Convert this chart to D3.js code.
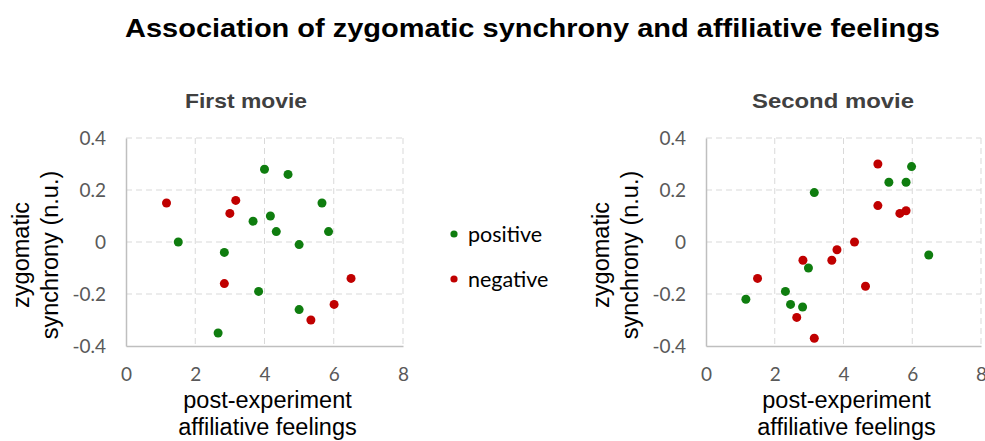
<!DOCTYPE html>
<html><head><meta charset="utf-8">
<script src="https://cdn.jsdelivr.net/npm/d3@7"></script>
<style>body{margin:0;background:#fff}</style>
</head><body>
<script>
const mainTitle = "Association of zygomatic synchrony and affiliative feelings";
const panelTitles = ["First movie", "Second movie"];
const seriesNames = ["positive", "negative"];
const seriesColors = ["#0f7d0f", "#c00000"];
const xTicks = [0, 2, 4, 6, 8];
const yTicks = [-0.4, -0.2, 0, 0.2, 0.4];
const yTickLabels = ["-0.4", "-0.2", "0", "0.2", "0.4"];
const xTitle = ["post-experiment", "affiliative feelings"];
const yTitle = ["zygomatic", "synchrony (n.u.)"];

const first_positive_x = [4.0, 4.68, 5.66, 4.17, 3.67, 4.34, 5.85, 1.51, 5.0, 2.84, 3.83, 5.0, 2.66];
const first_positive_y = [0.28, 0.26, 0.15, 0.10, 0.08, 0.04, 0.04, 0.0, -0.01, -0.04, -0.19, -0.26, -0.35];
const first_negative_x = [1.17, 3.17, 3.0, 2.84, 6.5, 6.01, 5.34];
const first_negative_y = [0.15, 0.16, 0.11, -0.16, -0.14, -0.24, -0.30];

const second_positive_x = [5.98, 5.32, 5.82, 3.15, 6.48, 2.98, 2.31, 2.46, 2.81, 1.16];
const second_positive_y = [0.29, 0.23, 0.23, 0.19, -0.05, -0.10, -0.19, -0.24, -0.25, -0.22];
const second_negative_x = [5.0, 5.0, 5.64, 5.82, 4.32, 3.81, 2.82, 3.66, 1.5, 4.64, 2.64, 3.15];
const second_negative_y = [0.30, 0.14, 0.11, 0.12, 0.0, -0.03, -0.07, -0.07, -0.14, -0.17, -0.29, -0.37];

const panels = [
  {title: panelTitles[0], series: [[first_positive_x, first_positive_y], [first_negative_x, first_negative_y]], left: 126, right: 403, titleX: 246, titleW: 122},
  {title: panelTitles[1], series: [[second_positive_x, second_positive_y], [second_negative_x, second_negative_y]], left: 706, right: 981, titleX: 833, titleW: 162}
];

const W = 985, H = 441;
const svg = d3.select("body").append("svg").attr("width", W).attr("height", H);
const tickFont = "Lato, 'Open Sans', sans-serif";
const arial = "'Liberation Sans', Arial, sans-serif";

svg.append("text").attr("x", 125).attr("y", 37)
  .attr("font-family", arial).attr("textLength", 815).attr("lengthAdjust", "spacingAndGlyphs")
  .attr("font-weight", "bold").attr("font-size", 25).attr("fill", "#000").text(mainTitle);

const plotTop = 138, plotBottom = 346;

panels.forEach(p => {
  const x = d3.scaleLinear().domain([0, 8]).range([p.left, p.right]);
  const y = d3.scaleLinear().domain([-0.4, 0.4]).range([plotBottom, plotTop]);
  const g = svg.append("g");

  g.append("text").attr("x", p.titleX - p.titleW / 2).attr("y", 108)
    .attr("textLength", p.titleW).attr("lengthAdjust", "spacingAndGlyphs")
    .attr("font-family", arial)
    .attr("font-weight", "bold").attr("font-size", 21).attr("fill", "#404040").text(p.title);

  g.selectAll(".gx").data(xTicks.filter(d => d > 0)).join("line")
    .attr("x1", d => x(d)).attr("x2", d => x(d)).attr("y1", plotTop).attr("y2", plotBottom)
    .attr("stroke", "#d9d9d9").attr("stroke-width", 1).attr("stroke-dasharray", "6,4");
  g.selectAll(".gy").data(yTicks.filter(d => d > -0.4)).join("line")
    .attr("x1", p.left).attr("x2", p.right).attr("y1", d => y(d)).attr("y2", d => y(d))
    .attr("stroke", "#d9d9d9").attr("stroke-width", 1).attr("stroke-dasharray", "6,4");

  const xAxis = d3.axisBottom(x).tickValues(xTicks).tickSize(0).tickPadding(22).tickFormat(d3.format("d"));
  const gx = g.append("g").attr("transform", `translate(0,${plotBottom})`).call(xAxis);
  gx.select(".domain").attr("stroke", "#bfbfbf").attr("stroke-width", 1.5);
  gx.selectAll("text").attr("font-family", tickFont).attr("font-size", 19).attr("fill", "#595959");

  const yAxis = d3.axisLeft(y).tickValues(yTicks).tickSize(0).tickPadding(20)
    .tickFormat((d, i) => yTickLabels[i]);
  const gy = g.append("g").attr("transform", `translate(${p.left},0)`).call(yAxis);
  gy.select(".domain").attr("stroke", "#bfbfbf").attr("stroke-width", 1.5);
  gy.selectAll("text").attr("font-family", tickFont).attr("font-size", 19).attr("fill", "#595959");

  p.series.forEach((s, si) => {
    const pts = s[0].map((v, i) => [v, s[1][i]]);
    g.selectAll(null).data(pts).join("circle")
      .attr("cx", d => x(d[0])).attr("cy", d => y(d[1])).attr("r", 4.5)
      .attr("fill", seriesColors[si]);
  });

  const cx = (p.left + p.right) / 2 + 3;
  xTitle.forEach((t, i) => {
    g.append("text").attr("x", cx).attr("y", 408 + i * 27).attr("text-anchor", "middle")
      .attr("font-family", arial).attr("font-size", 23.5).attr("fill", "#000").text(t);
  });
  const ymid = 255;
  yTitle.forEach((t, i) => {
    g.append("text").attr("transform", `translate(${p.left - 97 + i * 29},${ymid}) rotate(-90)`)
      .attr("text-anchor", "middle")
      .attr("font-family", arial).attr("font-size", 23.5).attr("fill", "#000").text(t);
  });
});

seriesNames.forEach((n, i) => {
  const ly = 234 + i * 45;
  svg.append("circle").attr("cx", 454).attr("cy", ly).attr("r", 3.6).attr("fill", seriesColors[i]);
  svg.append("text").attr("x", 468).attr("y", ly + 8).attr("font-family", tickFont)
    .attr("font-size", 21.5).attr("fill", "#000").text(n);
});
</script>
</body></html>
